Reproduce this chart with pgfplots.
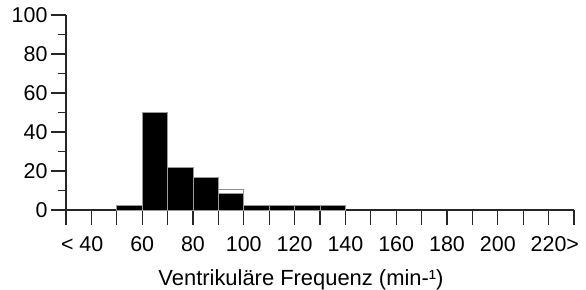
\documentclass[border=0pt]{standalone}
\usepackage{fontspec}
\setmainfont{Liberation Sans}
\usepackage{pgfplots}
\pgfplotsset{compat=1.18}
\begin{document}
\begin{tikzpicture}
\begin{axis}[
  at={(0bp,0bp)}, anchor=south west,
  width=508bp, height=195bp, scale only axis,
  xmin=30, xmax=230, ymin=0, ymax=100,
  axis x line=bottom, axis y line=left,
  axis line style={-, draw=black!85, line width=1.3bp},
  tick align=outside, major tick length=15bp, minor tick length=8bp,
  every tick/.style={draw=black!85, line width=1.3bp},
  xtick={30,40,...,230},
  xticklabels={,\llap{< }40,,60,,80,,100,,120,,140,,160,,180,,200,,220\rlap{>},},
  ytick={0,20,...,100}, minor ytick={10,30,...,90},
  tick label style={font=\fontsize{21.5}{25}\selectfont},
  xticklabel style={yshift=-8bp},
  label style={font=\fontsize{22}{26}\selectfont},
  /pgf/number format/assume math mode=true,
  xlabel={Ventrikuläre Frequenz (min-¹)},
  xlabel style={at={(axis description cs:0.4626,0)}, anchor=base, yshift=-75bp},
  clip=false,
]
\addplot[ybar interval, fill=white, draw=black!45, line width=1bp] coordinates {(90,10.3)(100,10.3)};
\addplot[ybar interval, fill=black, draw=black!40, line width=0.8bp] coordinates {(50,2.3)(60,50)(70,22)(80,16.6)(90,8.5)(100,2.3)(110,2.3)(120,2.3)(130,2.3)(140,2.3)};
\end{axis}
\pgfresetboundingbox
\path[use as bounding box] (-66bp,-80bp) rectangle (520bp,210bp);
\end{tikzpicture}
\end{document}
